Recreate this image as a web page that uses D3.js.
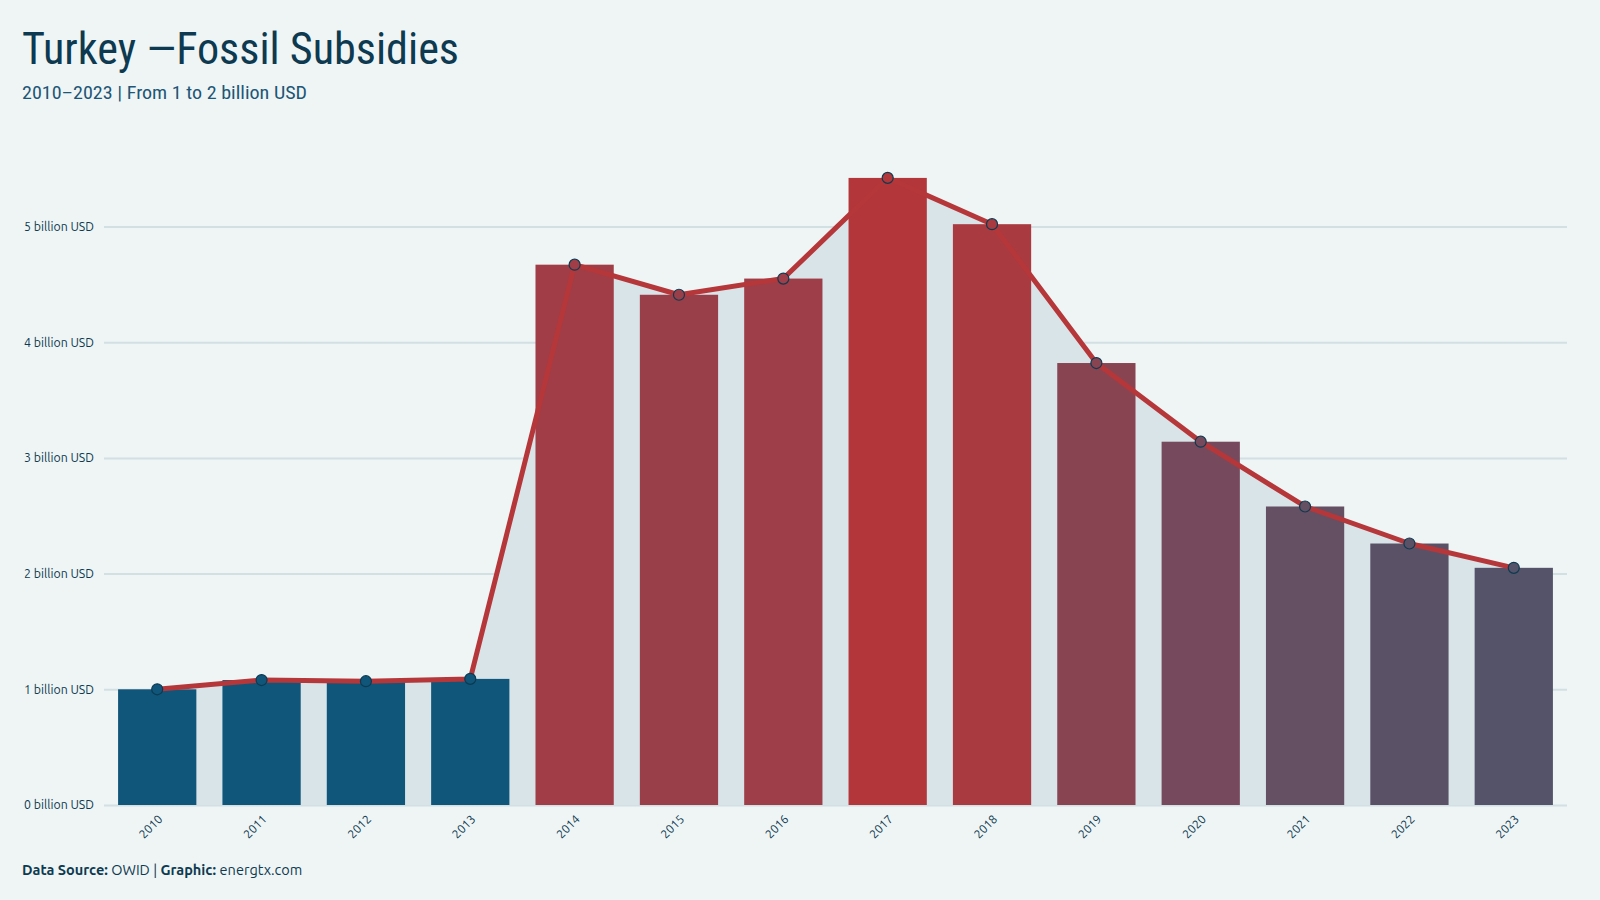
<!DOCTYPE html>
<html>
<head>
<meta charset="utf-8">
<script src="https://cdn.jsdelivr.net/npm/d3@7"></script>
<style>
  html, body { margin: 0; padding: 0; background: #eff5f5; }
  svg { display: block; }
</style>
</head>
<body>
<svg id="chart" width="1600" height="900"></svg>
<script>
const years = ["2010","2011","2012","2013","2014","2015","2016","2017","2018","2019","2020","2021","2022","2023"];
const subsidies = [1.00, 1.08, 1.07, 1.09, 4.67, 4.41, 4.55, 5.42, 5.02, 3.82, 3.14, 2.58, 2.26, 2.05];
const yTicks = [0, 1, 2, 3, 4, 5];
const colorStops = [1.09, 2.05, 5.42];
const colorRange = ["#10557a", "#54536a", "#b3363a"];

const data = years.map((y, i) => ({ year: y, value: subsidies[i] }));
const svg = d3.select("#chart");

const margin = { left: 104, right: 1567, top: 130, bottom: 805 };
const x = d3.scaleBand().domain(years).range([margin.left, margin.right])
  .paddingInner(0.25).paddingOuter(0.135);
const y = d3.scaleLinear().domain([0, 5]).range([805, 226.5]);
const color = d3.scaleLinear().domain(colorStops).range(colorRange)
  .interpolate(d3.interpolateRgb.gamma(1.4)).clamp(true);

// Title
svg.append("text").attr("x", 22).attr("y", 64)
  .attr("font-family", "'Ubuntu Condensed','Liberation Sans Narrow','Roboto Condensed','DejaVu Sans Condensed',Roboto,sans-serif")
  .attr("font-size", 44).attr("fill", "#0d3a50")
  .attr("textLength", 437).attr("lengthAdjust", "spacingAndGlyphs")
  .text("Turkey \u2014Fossil Subsidies");
svg.append("text").attr("x", 22).attr("y", 99)
  .attr("font-family", "'Ubuntu Condensed','Liberation Sans Narrow','Roboto Condensed','DejaVu Sans Condensed',Roboto,sans-serif")
  .attr("font-size", 19).attr("fill", "#1d5676")
  .attr("textLength", 285).attr("lengthAdjust", "spacingAndGlyphs")
  .text("2010\u20132023 | From 1 to 2 billion USD");

// Gridlines + y labels
const yAxis = d3.axisLeft(y).tickValues(yTicks)
  .tickSize(-(margin.right - margin.left)).tickPadding(10)
  .tickFormat(d => d + " billion USD");
const gy = svg.append("g").attr("transform", `translate(${margin.left},0)`).call(yAxis);
gy.select(".domain").remove();
gy.selectAll(".tick line").attr("stroke", "#d2dfe3").attr("stroke-width", 2);
gy.selectAll(".tick text").attr("font-family", "Ubuntu,'Noto Sans','Open Sans',sans-serif")
  .attr("font-size", 12.3).attr("fill", "#0d3a50");

// Area under the line
const cx = d => x(d.year) + x.bandwidth() / 2;
const area = d3.area().x(cx).y0(y(0)).y1(d => y(d.value));
svg.append("path").datum(data).attr("d", area).attr("fill", "#d9e4e9");

// Bars
svg.append("g").selectAll("rect").data(data).join("rect")
  .attr("x", d => x(d.year)).attr("width", x.bandwidth())
  .attr("y", d => y(d.value)).attr("height", d => y(0) - y(d.value))
  .attr("fill", d => color(d.value));

// Line
const line = d3.line().x(cx).y(d => y(d.value));
svg.append("path").datum(data).attr("d", line)
  .attr("fill", "none").attr("stroke", "#b5373a").attr("stroke-width", 5)
  .attr("stroke-linejoin", "round");

// Dots
svg.append("g").selectAll("circle").data(data).join("circle")
  .attr("cx", cx).attr("cy", d => y(d.value)).attr("r", 5.5)
  .attr("fill", d => color(d.value)).attr("stroke", "#0d3a50").attr("stroke-width", 1.2);

// X labels
const xAxis = d3.axisBottom(x).tickSize(0).tickPadding(0);
const gx = svg.append("g").attr("transform", `translate(0,${y(0)})`).call(xAxis);
gx.select(".domain").remove();
gx.selectAll(".tick text")
  .attr("font-family", "Ubuntu,'Noto Sans','Open Sans',sans-serif")
  .attr("font-size", 12).attr("fill", "#0d3a50")
  .attr("text-anchor", "end").attr("dy", 0).attr("y", 0)
  .attr("transform", "translate(6,15) rotate(-45)");

// Footer
const foot = svg.append("text").attr("x", 22).attr("y", 875)
  .attr("font-family", "Ubuntu,'Noto Sans','Open Sans',sans-serif")
  .attr("font-size", 14.5).attr("fill", "#0d3a50");
foot.append("tspan").attr("font-weight", "bold").text("Data Source: ");
foot.append("tspan").text("OWID | ");
foot.append("tspan").attr("font-weight", "bold").text("Graphic: ");
foot.append("tspan").text("energtx.com");
</script>
</body>
</html>
